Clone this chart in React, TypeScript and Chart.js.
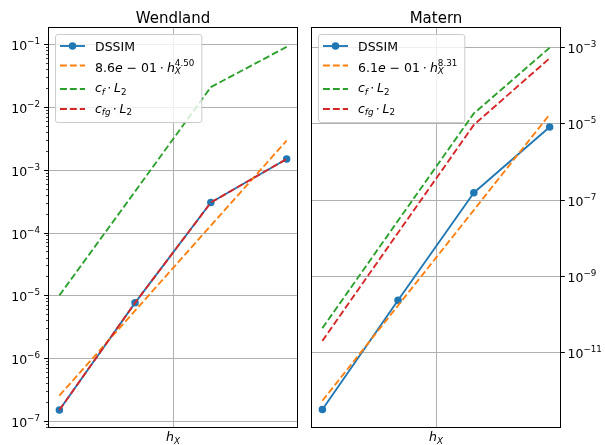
import { useEffect, useRef } from 'react';
import { Chart, registerables } from 'chart.js';

Chart.register(...registerables);

const FONT = '"DejaVu Sans", sans-serif';

// ---- data ----
const hValues = [0.0354, 0.0707, 0.1414, 0.2828];
const xGridValues = [0.1];
const xMin = 0.0319;
const xMax = 0.3137;

const wendlandDSSIM = [1.5e-7, 7.6e-6, 3.0e-4, 1.48e-3];
const wendlandFit = [2.54e-7, 5.7e-6, 1.29e-4, 2.9e-3];
const wendlandCf = [1.0e-5, 4.5e-4, 2.06e-2, 9.0e-2];
const wendlandCfg = [1.5e-7, 7.6e-6, 3.0e-4, 1.48e-3];
const wendlandYMin = 7.76e-8;
const wendlandYMax = 0.1862;
const wendlandTickExps = [-7, -6, -5, -4, -3, -2, -1];

const maternDSSIM = [3.2e-13, 2.3e-10, 1.5e-7, 7.9e-6];
const maternFit = [5.4e-13, 1.68e-10, 5.3e-8, 1.69e-5];
const maternCf = [4.3e-11, 2.8e-8, 1.8e-5, 9.4e-4];
const maternCfg = [2.0e-11, 1.35e-8, 9.0e-6, 5.0e-4];
const maternYMin = 1.047e-13;
const maternYMax = 3.281e-3;
const maternTickExps = [-11, -9, -7, -5, -3];

const seriesColors = ['#1f77b4', '#ff7f0e', '#2ca02c', '#d62728'];

// ---- rich text ----
type Seg = { t?: string; it?: boolean; sub?: boolean; sup?: boolean; stack?: boolean; gap?: number };

function fontFor(s: Seg, base: number) {
  const size = s.sub || s.sup ? base * 0.7 : base;
  return `${s.it ? 'italic ' : ''}${size}px ${FONT}`;
}

function rich(ctx: CanvasRenderingContext2D, segs: Seg[], base: number, x0: number, y: number, draw: boolean) {
  let x = x0;
  let lastStart = x0;
  let lastW = 0;
  for (const s of segs) {
    if (s.gap !== undefined) {
      x += s.gap;
      continue;
    }
    ctx.font = fontFor(s, base);
    const w = ctx.measureText(s.t || '').width;
    const start = s.stack ? lastStart : x;
    const dy = s.sub ? base * 0.22 : s.sup ? -base * 0.44 : 0;
    if (draw) {
      ctx.textAlign = 'left';
      ctx.textBaseline = 'alphabetic';
      ctx.fillText(s.t || '', start, y + dy);
    }
    if (s.stack) {
      x = Math.max(lastStart + lastW, start + w);
    } else {
      lastStart = start;
      lastW = w;
      x = start + w;
    }
  }
  return x - x0;
}

function fitLabel(coef: string, exp: string, power: string): Seg[] {
  return [
    { t: coef },
    { t: 'e', it: true },
    { gap: 4 },
    { t: '−' },
    { gap: 4 },
    { t: exp },
    { gap: 3 },
    { t: '⋅' },
    { gap: 3 },
    { t: 'h', it: true },
    { t: 'X', it: true, sub: true },
    { t: power, sup: true, stack: true },
  ];
}

const cfLabel: Seg[] = [
  { t: 'c', it: true },
  { t: 'f', it: true, sub: true },
  { gap: 2.5 },
  { t: '⋅' },
  { gap: 2.5 },
  { t: 'L', it: true },
  { t: '2', sub: true },
];
const cfgLabel: Seg[] = [
  { t: 'c', it: true },
  { t: 'fg', it: true, sub: true },
  { gap: 2.5 },
  { t: '⋅' },
  { gap: 2.5 },
  { t: 'L', it: true },
  { t: '2', sub: true },
];

type Panel = {
  title: string;
  series: number[][];
  yMin: number;
  yMax: number;
  tickExps: number[];
  minor: boolean;
  side: 'left' | 'right';
  labels: Seg[][];
  canvasLeft: number;
  canvasWidth: number;
  padding: { left: number; right: number; top: number; bottom: number };
};

const panels: Panel[] = [
  {
    title: 'Wendland',
    series: [wendlandDSSIM, wendlandFit, wendlandCf, wendlandCfg],
    yMin: wendlandYMin,
    yMax: wendlandYMax,
    tickExps: wendlandTickExps,
    minor: true,
    side: 'left',
    labels: [[{ t: 'DSSIM' }], fitLabel('8.6', '01', '4.50'), cfLabel, cfgLabel],
    canvasLeft: 0,
    canvasWidth: 302,
    padding: { left: 48, right: 4, top: 27, bottom: 17 },
  },
  {
    title: 'Matern',
    series: [maternDSSIM, maternFit, maternCf, maternCfg],
    yMin: maternYMin,
    yMax: maternYMax,
    tickExps: maternTickExps,
    minor: false,
    side: 'right',
    labels: [[{ t: 'DSSIM' }], fitLabel('6.1', '01', '8.31'), cfLabel, cfgLabel],
    canvasLeft: 302,
    canvasWidth: 303,
    padding: { left: 9, right: 44, top: 27, bottom: 17 },
  },
];

function line(ctx: CanvasRenderingContext2D, x1: number, y1: number, x2: number, y2: number) {
  ctx.beginPath();
  ctx.moveTo(x1, y1);
  ctx.lineTo(x2, y2);
  ctx.stroke();
}

function makePlugin(panel: Panel) {
  return {
    id: 'mplLook',
    beforeDatasetsDraw(chart: any) {
      const { ctx, chartArea: ca, scales } = chart;
      ctx.save();
      ctx.strokeStyle = '#b0b0b0';
      ctx.lineWidth = 1;
      for (const v of xGridValues) {
        const px = Math.round(scales.x.getPixelForValue(v)) + 0.5;
        line(ctx, px, ca.top, px, ca.bottom);
      }
      for (const e of panel.tickExps) {
        const py = Math.round(scales.y.getPixelForValue(Math.pow(10, e))) + 0.5;
        line(ctx, ca.left, py, ca.right, py);
      }
      ctx.restore();
    },
    afterDraw(chart: any) {
      const { ctx, chartArea: ca, scales } = chart;
      ctx.save();
      // frame
      ctx.strokeStyle = '#000';
      ctx.lineWidth = 1;
      ctx.strokeRect(ca.left + 0.5, ca.top + 0.5, ca.right - ca.left - 1, ca.bottom - ca.top - 1);

      // y ticks
      const spine = panel.side === 'left' ? ca.left + 0.5 : ca.right - 0.5;
      const dir = panel.side === 'left' ? -1 : 1;
      ctx.fillStyle = '#000';
      for (const e of panel.tickExps) {
        const py = Math.round(scales.y.getPixelForValue(Math.pow(10, e))) + 0.5;
        ctx.lineWidth = 1;
        line(ctx, spine, py, spine + dir * 4.4, py);
        const segs: Seg[] = [{ t: '10' }, { t: '−' + Math.abs(e), sup: true }];
        const w = rich(ctx, segs, 12.5, 0, 0, false);
        const x0 = panel.side === 'left' ? spine - 8.5 - w : spine + 7;
        rich(ctx, segs, 12.5, x0, py + 5, true);
      }
      if (panel.minor) {
        ctx.lineWidth = 0.75;
        const lo = Math.floor(Math.log10(panel.yMin));
        const hi = Math.ceil(Math.log10(panel.yMax));
        for (let e = lo; e <= hi; e++) {
          for (let k = 2; k <= 9; k++) {
            const v = k * Math.pow(10, e);
            if (v < panel.yMin || v > panel.yMax) continue;
            const py = Math.round(scales.y.getPixelForValue(v)) + 0.5;
            line(ctx, spine, py, spine + dir * 2.5, py);
          }
        }
      }

      // title
      const cx = (ca.left + ca.right) / 2;
      ctx.font = `15px ${FONT}`;
      ctx.textAlign = 'center';
      ctx.textBaseline = 'alphabetic';
      ctx.fillText(panel.title, cx, 22.5);

      // x label
      const xl: Seg[] = [{ t: 'h', it: true }, { t: 'X', it: true, sub: true }];
      const xw = rich(ctx, xl, 12.5, 0, 0, false);
      rich(ctx, xl, 12.5, cx - xw / 2, 441, true);

      // legend
      const bx = ca.left + 7;
      const by = ca.top + 7;
      let maxW = 0;
      for (const l of panel.labels) maxW = Math.max(maxW, rich(ctx, l, 12.5, 0, 0, false));
      const bw = 40 + maxW + 7;
      const bh = 88;
      ctx.beginPath();
      ctx.roundRect(bx + 0.5, by + 0.5, bw, bh, 2.5);
      ctx.fillStyle = 'rgba(255,255,255,0.8)';
      ctx.fill();
      ctx.strokeStyle = '#cccccc';
      ctx.lineWidth = 1;
      ctx.stroke();
      const handleY = [19, 38.5, 62, 82];
      const baseY = [23.5, 44.5, 65, 85.5];
      for (let i = 0; i < 4; i++) {
        const hy = ca.top + handleY[i];
        ctx.strokeStyle = seriesColors[i];
        ctx.lineWidth = 1.875;
        ctx.setLineDash(i === 0 ? [] : [6.9, 3]);
        line(ctx, bx + 5, hy, bx + 30, hy);
        ctx.setLineDash([]);
        if (i === 0) {
          ctx.fillStyle = seriesColors[0];
          ctx.beginPath();
          ctx.arc(bx + 17.5, hy, 3.75, 0, Math.PI * 2);
          ctx.fill();
        }
        ctx.fillStyle = '#000';
        rich(ctx, panel.labels[i], 12.5, bx + 40, ca.top + baseY[i], true);
      }
      ctx.restore();
    },
  };
}

function PanelChart({ panel }: { panel: Panel }) {
  const ref = useRef<HTMLCanvasElement>(null);
  useEffect(() => {
    const chart = new Chart(ref.current as HTMLCanvasElement, {
      type: 'line',
      data: {
        datasets: panel.series.map((vals, i) => ({
          data: hValues.map((h, j) => ({ x: h, y: vals[j] })),
          borderColor: seriesColors[i],
          backgroundColor: seriesColors[i],
          borderWidth: 1.875,
          borderDash: i === 0 ? [] : [6.9, 3],
          borderJoinStyle: 'round' as const,
          pointRadius: i === 0 ? 3.75 : 0,
          pointBorderWidth: 0,
          pointHoverRadius: 0,
          tension: 0,
          fill: false,
          order: 4 - i,
        })),
      },
      options: {
        responsive: false,
        animation: false,
        events: [],
        layout: { padding: panel.padding },
        plugins: {
          legend: { display: false },
          tooltip: { enabled: false },
          title: { display: false },
        },
        scales: {
          x: { type: 'logarithmic', min: xMin, max: xMax, display: false },
          y: { type: 'logarithmic', min: panel.yMin, max: panel.yMax, display: false },
        },
      },
      plugins: [makePlugin(panel)],
    } as any);
    return () => chart.destroy();
  }, [panel]);
  return (
    <canvas
      ref={ref}
      width={panel.canvasWidth}
      height={445}
      style={{ position: 'absolute', left: panel.canvasLeft, top: 0, width: panel.canvasWidth, height: 445 }}
    />
  );
}

export default function App() {
  return (
    <div style={{ position: 'absolute', left: 0, top: 0, width: 605, height: 445, background: '#fff', overflow: 'hidden' }}>
      {panels.map((p) => (
        <PanelChart key={p.title} panel={p} />
      ))}
    </div>
  );
}
